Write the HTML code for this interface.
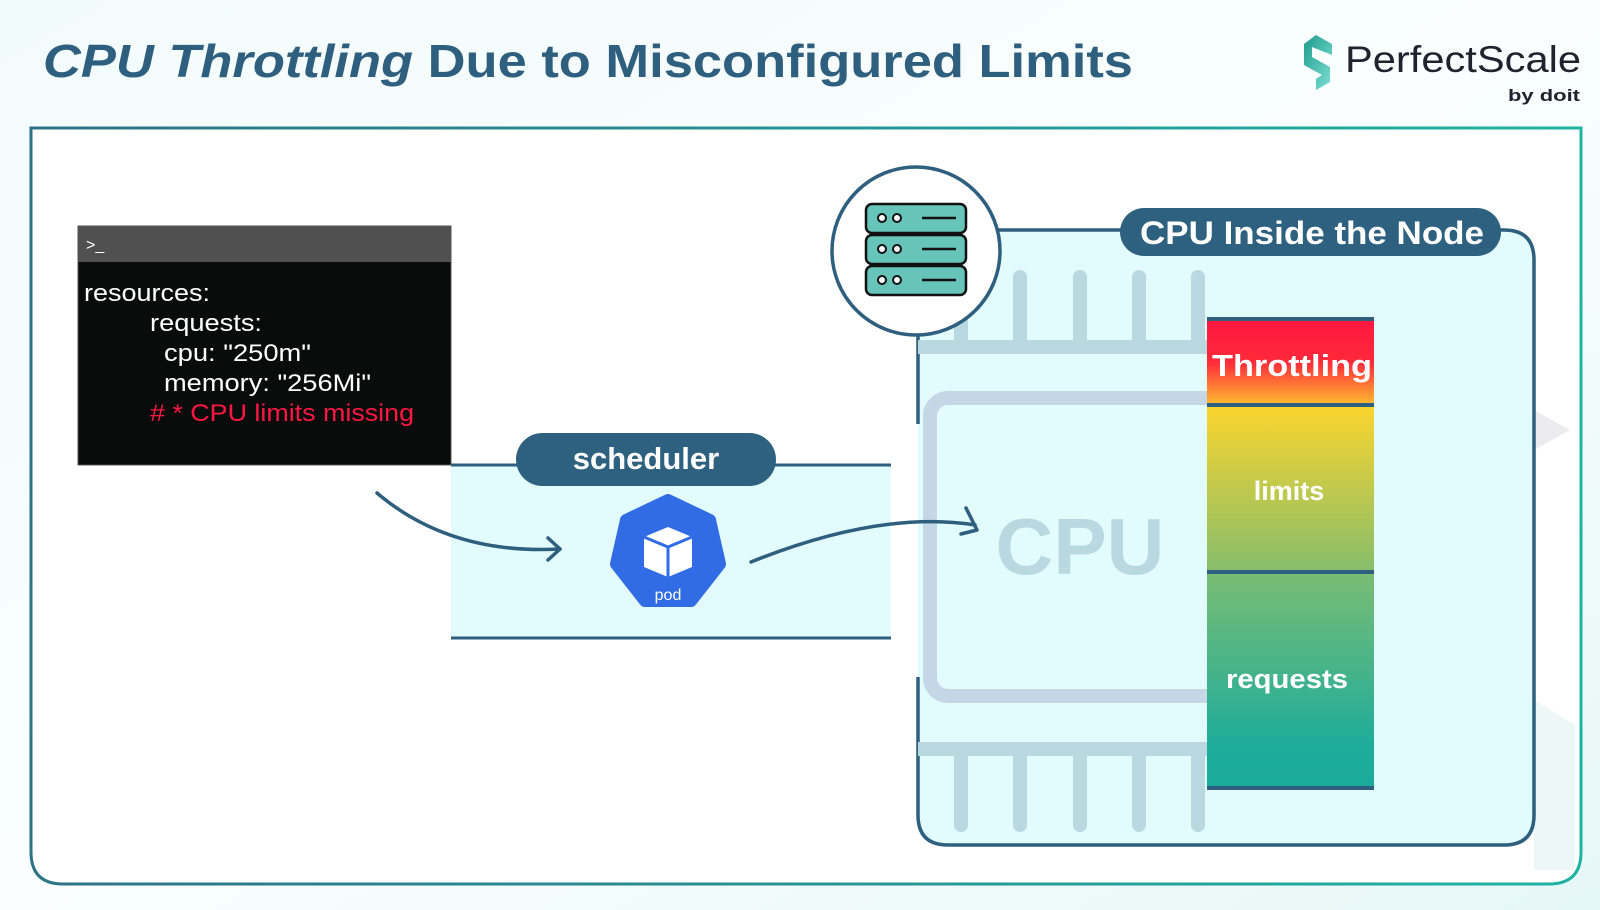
<!DOCTYPE html>
<html><head><meta charset="utf-8"><style>
html,body{margin:0;padding:0;width:1600px;height:910px;overflow:hidden;background:#f4fbfc}
svg{display:block}
text{font-family:"Liberation Sans","DejaVu Sans",sans-serif}
</style></head><body>
<svg width="1600" height="910" viewBox="0 0 1600 910" xmlns="http://www.w3.org/2000/svg">
<defs>
<linearGradient id="bg" x1="0" y1="0" x2="1" y2="1"><stop offset="0" stop-color="#f2fbfc"/><stop offset="0.5" stop-color="#fafefe"/><stop offset="1" stop-color="#e6f7f7"/></linearGradient>
<linearGradient id="frame" x1="0" y1="0" x2="1" y2="0"><stop offset="0" stop-color="#2d7387"/><stop offset="1" stop-color="#1fb3a2"/></linearGradient>
<linearGradient id="thr" x1="0" y1="0" x2="0" y2="1"><stop offset="0" stop-color="#ff153f"/><stop offset="0.5" stop-color="#ff2a3a"/><stop offset="1" stop-color="#fdc030"/></linearGradient>
<linearGradient id="lim" x1="0" y1="0" x2="0" y2="1"><stop offset="0" stop-color="#fbd52e"/><stop offset="1" stop-color="#86bd6b"/></linearGradient>
<linearGradient id="req" x1="0" y1="0" x2="0" y2="1"><stop offset="0" stop-color="#7abd73"/><stop offset="0.8" stop-color="#1eac9b"/><stop offset="1" stop-color="#1aab9c"/></linearGradient>
<linearGradient id="logo" x1="0" y1="0" x2="1" y2="1"><stop offset="0" stop-color="#1e9c8c"/><stop offset="1" stop-color="#7fe0d6"/></linearGradient>
</defs>
<rect width="1600" height="910" fill="url(#bg)"/>
<!-- title -->
<text x="43" y="77" font-size="46" font-weight="bold" fill="#2e5f7e" textLength="1090" lengthAdjust="spacingAndGlyphs"><tspan font-style="italic">CPU Throttling</tspan> Due to Misconfigured Limits</text>
<!-- logo -->
<g transform="translate(1300,35)">
<path d="M16 0 L32 9 L32 20 L12 12 L12 22 L30 32 L30 47 L16 55 L16 44 L22 40 L4 30 L4 9 Z" fill="url(#logo)"/>
</g>
<text x="1345" y="72" font-size="37" fill="#22222e" textLength="236" lengthAdjust="spacingAndGlyphs">PerfectScale</text>
<text x="1508" y="101" font-size="17" font-weight="bold" fill="#22222e" textLength="72" lengthAdjust="spacingAndGlyphs">by doit</text>
<!-- outer frame -->
<path d="M31 128 L1581 128 L1581 852 Q1581 884 1549 884 L63 884 Q31 884 31 852 Z" fill="#ffffff" stroke="url(#frame)" stroke-width="3"/>
<polygon points="1534,410 1570,430 1534,450" fill="#ececee"/>
<polygon points="1534,700 1575,725 1575,870 1534,870" fill="#eef7f7"/>
<!-- terminal -->
<rect x="78" y="226" width="373" height="239" fill="#0a0c0c" stroke="#555" stroke-width="1"/>
<rect x="78" y="226" width="373" height="36" fill="#505050"/>
<text x="86" y="250" font-size="16" fill="#ffffff">&gt;_</text>
<g font-size="24" fill="#ffffff">
<text x="84" y="301" textLength="126" lengthAdjust="spacingAndGlyphs">resources:</text>
<text x="150" y="331" textLength="112" lengthAdjust="spacingAndGlyphs">requests:</text>
<text x="164" y="361" textLength="147" lengthAdjust="spacingAndGlyphs">cpu: "250m"</text>
<text x="164" y="391" textLength="207" lengthAdjust="spacingAndGlyphs">memory: "256Mi"</text>
<text x="150" y="421" fill="#ff1744" textLength="264" lengthAdjust="spacingAndGlyphs"># * CPU limits missing</text>
</g>
<!-- scheduler band -->
<rect x="451" y="465" width="440" height="173" fill="#e2fbfc"/>
<line x1="451" y1="465" x2="891" y2="465" stroke="#2e5f7e" stroke-width="3"/>
<line x1="451" y1="638" x2="891" y2="638" stroke="#2e5f7e" stroke-width="3"/>
<rect x="516" y="433" width="260" height="53" rx="26.5" fill="#2e6180"/>
<text x="646" y="469" font-size="31" font-weight="bold" fill="#ffffff" text-anchor="middle">scheduler</text>
<!-- pod -->
<polygon points="668,500 710,520 720,564 691,601 645,601 616,564 626,520" fill="#326ce5" stroke="#326ce5" stroke-width="12" stroke-linejoin="round"/>
<polygon points="668,527 692,537 692,567 668,577 644,567 644,537" fill="#ffffff"/>
<path d="M644 537 L668 547 L692 537 M668 547 L668 577" stroke="#326ce5" stroke-width="3" fill="none"/>
<text x="668" y="600" font-size="16" fill="#ffffff" text-anchor="middle">pod</text>
<path d="M377 493 Q450 555 560 549" stroke="#2e5f7e" stroke-width="3.5" fill="none" stroke-linecap="round"/>
<path d="M548 538 L560 549 L548 560" stroke="#2e5f7e" stroke-width="3.5" fill="none" stroke-linecap="round" stroke-linejoin="round"/>
<!-- node box -->
<rect x="918" y="230" width="616" height="615" rx="30" fill="#e2fbfc"/>
<path d="M918 424 L918 260 Q918 230 948 230 L1504 230 Q1534 230 1534 260 L1534 815 Q1534 845 1504 845 L948 845 Q918 845 918 815 L918 677" fill="none" stroke="#2e5f7e" stroke-width="3.5"/>
<!-- chip -->
<g fill="#bad8df">
<rect x="954" y="270" width="14" height="78" rx="7"/><rect x="1013" y="270" width="14" height="78" rx="7"/><rect x="1073" y="270" width="14" height="78" rx="7"/><rect x="1132" y="270" width="14" height="78" rx="7"/><rect x="1191" y="270" width="14" height="78" rx="7"/>
<rect x="918" y="340" width="290" height="14"/>
<rect x="918" y="742" width="290" height="14"/>
<rect x="954" y="742" width="14" height="90" rx="7"/><rect x="1013" y="742" width="14" height="90" rx="7"/><rect x="1073" y="742" width="14" height="90" rx="7"/><rect x="1132" y="742" width="14" height="90" rx="7"/><rect x="1191" y="742" width="14" height="90" rx="7"/>
</g>
<rect x="930" y="398" width="300" height="298" rx="18" fill="none" stroke="#c5d6e6" stroke-width="14"/>
<text x="1080" y="574" font-size="80" font-weight="bold" fill="#bad8df" text-anchor="middle">CPU</text>
<!-- second arrow -->
<path d="M751 562 Q880 510 975 525" stroke="#2e5f7e" stroke-width="3.5" fill="none" stroke-linecap="round"/>
<path d="M966 508 L977 530 L961 534" stroke="#2e5f7e" stroke-width="3.5" fill="none" stroke-linecap="round" stroke-linejoin="round"/>
<!-- circle -->
<circle cx="916" cy="251" r="84" fill="#ffffff" stroke="#2e5f7e" stroke-width="3.5"/>
<g stroke="#111" stroke-width="2.5">
<rect x="866" y="204" width="100" height="29" rx="6" fill="#66c4b8"/>
<rect x="866" y="235" width="100" height="29" rx="6" fill="#66c4b8"/>
<rect x="866" y="266" width="100" height="29" rx="6" fill="#66c4b8"/>
</g>
<g fill="#ffffff" stroke="#111" stroke-width="2">
<circle cx="882" cy="218" r="4"/><circle cx="897" cy="218" r="4"/>
<circle cx="882" cy="249" r="4"/><circle cx="897" cy="249" r="4"/>
<circle cx="882" cy="280" r="4"/><circle cx="897" cy="280" r="4"/>
</g>
<g stroke="#111" stroke-width="2.5"><line x1="922" y1="218" x2="956" y2="218"/><line x1="922" y1="249" x2="956" y2="249"/><line x1="922" y1="280" x2="956" y2="280"/></g>
<!-- CPU inside pill -->
<rect x="1120" y="208" width="381" height="48" rx="24" fill="#2e6180"/>
<text x="1312" y="244" font-size="32" font-weight="bold" fill="#ffffff" text-anchor="middle" textLength="344" lengthAdjust="spacingAndGlyphs">CPU Inside the Node</text>
<!-- bar -->
<rect x="1207" y="318" width="167" height="88" fill="url(#thr)"/>
<rect x="1207" y="406" width="167" height="166" fill="url(#lim)"/>
<rect x="1207" y="572" width="167" height="217" fill="url(#req)"/>
<g fill="#2e5f7e">
<rect x="1207" y="317" width="167" height="4"/>
<rect x="1207" y="403" width="167" height="4"/>
<rect x="1207" y="570" width="167" height="4"/>
<rect x="1207" y="786" width="167" height="4"/>
</g>
<text x="1292" y="376" font-size="31" font-weight="bold" fill="#ffffff" text-anchor="middle" textLength="160" lengthAdjust="spacingAndGlyphs">Throttling</text>
<text x="1289" y="500" font-size="27" font-weight="bold" fill="#ffffff" text-anchor="middle">limits</text>
<text x="1287" y="688" font-size="27" font-weight="bold" fill="#ffffff" text-anchor="middle" textLength="122" lengthAdjust="spacingAndGlyphs">requests</text>
</svg>
</body></html>
